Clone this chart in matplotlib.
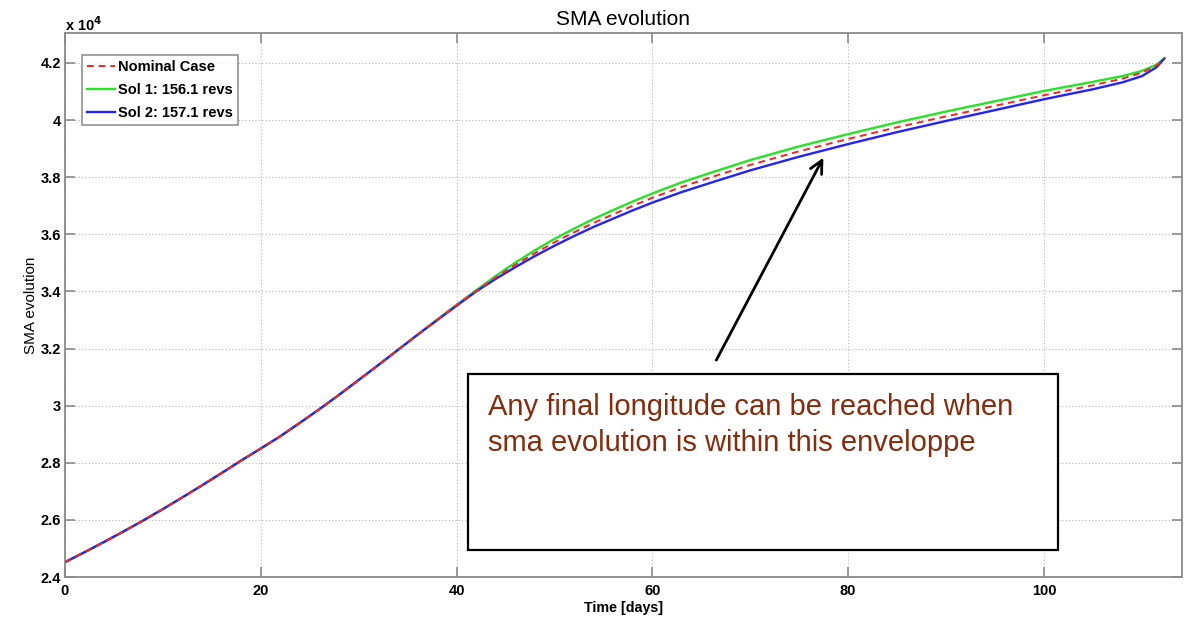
#!/usr/bin/env python3
import matplotlib
matplotlib.use("Agg")
import matplotlib.pyplot as plt
from matplotlib.patches import Rectangle

plt.rcParams['font.family'] = ['Liberation Sans', 'DejaVu Sans']

# SMA values, in units of 1e4 km
t_days = [0, 2, 4, 6, 8, 10, 12, 14, 16, 18, 20, 22, 24, 26, 28, 30, 32, 34,
          36, 38, 40, 42, 44, 46, 48, 50, 52, 54, 56, 58, 60, 63, 66, 70, 75,
          80, 85, 90, 95, 100, 105, 108, 110, 111.5, 112.3]
sma_nominal = [2.452, 2.487, 2.523, 2.560, 2.598, 2.638, 2.679, 2.721, 2.764,
               2.808, 2.850, 2.893, 2.940, 2.988, 3.038, 3.090, 3.142, 3.195,
               3.248, 3.300, 3.352, 3.402, 3.449, 3.493, 3.534, 3.572, 3.607,
               3.640, 3.670, 3.700, 3.728, 3.766, 3.800, 3.843, 3.891, 3.934,
               3.975, 4.013, 4.050, 4.087, 4.122, 4.145, 4.166, 4.191, 4.216]
sma_sol1 = [2.452, 2.487, 2.523, 2.560, 2.598, 2.638, 2.679, 2.721, 2.764,
            2.808, 2.850, 2.893, 2.940, 2.988, 3.038, 3.090, 3.142, 3.195,
            3.248, 3.301, 3.353, 3.404, 3.454, 3.501, 3.544, 3.584, 3.620,
            3.654, 3.685, 3.715, 3.743, 3.782, 3.816, 3.860, 3.908, 3.951,
            3.992, 4.030, 4.066, 4.102, 4.134, 4.154, 4.172, 4.194, 4.216]
sma_sol2 = [2.452, 2.487, 2.523, 2.560, 2.598, 2.638, 2.679, 2.721, 2.764,
            2.808, 2.850, 2.893, 2.940, 2.988, 3.038, 3.090, 3.142, 3.195,
            3.248, 3.299, 3.350, 3.400, 3.444, 3.485, 3.524, 3.560, 3.594,
            3.626, 3.655, 3.684, 3.711, 3.748, 3.781, 3.824, 3.872, 3.916,
            3.958, 3.997, 4.035, 4.073, 4.108, 4.132, 4.154, 4.185, 4.216]

labels = ["Nominal Case", "Sol 1: 156.1 revs", "Sol 2: 157.1 revs"]
note = "Any final longitude can be reached when\nsma evolution is within this enveloppe"


def main():
    fig = plt.figure(figsize=(11.92, 6.18), dpi=100)
    ax = fig.add_axes([0.0545, 0.0663, 0.9371, 0.8803])

    ax.plot(t_days, sma_nominal, color='#ff2020', ls='--', lw=1.4,
            dashes=(3.5, 2.5), label=labels[0], zorder=3)
    ax.plot(t_days, sma_sol1, color='#22e622', lw=1.7, label=labels[1],
            zorder=2)
    ax.plot(t_days, sma_sol2, color='#2222ff', lw=1.7, label=labels[2],
            zorder=2)

    ax.set_xlim(0, 114.1)
    ax.set_ylim(2.4, 4.305)
    ax.set_xticks([0, 20, 40, 60, 80, 100])
    ax.set_yticks([2.4, 2.6, 2.8, 3.0, 3.2, 3.4, 3.6, 3.8, 4.0, 4.2])
    ax.set_yticklabels(["2.4", "2.6", "2.8", "3", "3.2", "3.4", "3.6",
                        "3.8", "4", "4.2"])
    ax.grid(True, ls=(0, (1, 2)), color='#b8b8b8', lw=0.8)
    ax.tick_params(direction='in', length=7, width=1.2, color='#8a8a8a',
                   top=True, right=True, labelsize=10.5)
    ax.tick_params(axis='y', pad=3)
    ax.tick_params(axis='x', pad=5)
    for lab in ax.get_xticklabels() + ax.get_yticklabels():
        lab.set_fontweight('bold')
    for sp in ax.spines.values():
        sp.set_color('#8a8a8a')
        sp.set_linewidth(1.3)

    ax.text(0, 1.003, r'x 10$^{\mathbf{4}}$', transform=ax.transAxes,
            fontsize=10.5, fontweight='bold', ha='left', va='baseline')
    ax.set_title("SMA evolution", fontsize=15, pad=6)
    ax.set_xlabel("Time [days]", fontsize=10.3, fontweight='bold', labelpad=2)
    ax.set_ylabel("SMA evolution", fontsize=11, labelpad=2)

    leg = ax.legend(loc='upper left', bbox_to_anchor=(0.0152, 0.960),
                    prop={'weight': 'bold', 'size': 10.5}, fancybox=False,
                    edgecolor='#777777', handlelength=1.9, handletextpad=0.25,
                    borderpad=0.35, labelspacing=0.62, borderaxespad=0)
    leg.get_frame().set_linewidth(1.2)

    # annotation box and arrow
    ax.add_patch(Rectangle((41.2, 2.495), 60.2, 0.617, fill=True,
                           facecolor='white', edgecolor='black', lw=1.6,
                           zorder=5))
    ax.text(43.2, 3.045, note, fontsize=21, color='#8b2a0a', va='top',
            ha='left', linespacing=1.35, zorder=6)
    ax.annotate("", xy=(77.6, 3.877), xytext=(66.4, 3.151),
                arrowprops=dict(arrowstyle='->,head_length=0.9,head_width=0.45',
                                color='black', lw=2), zorder=6)

    fig.savefig("out.png", dpi=100)


if __name__ == "__main__":
    main()
